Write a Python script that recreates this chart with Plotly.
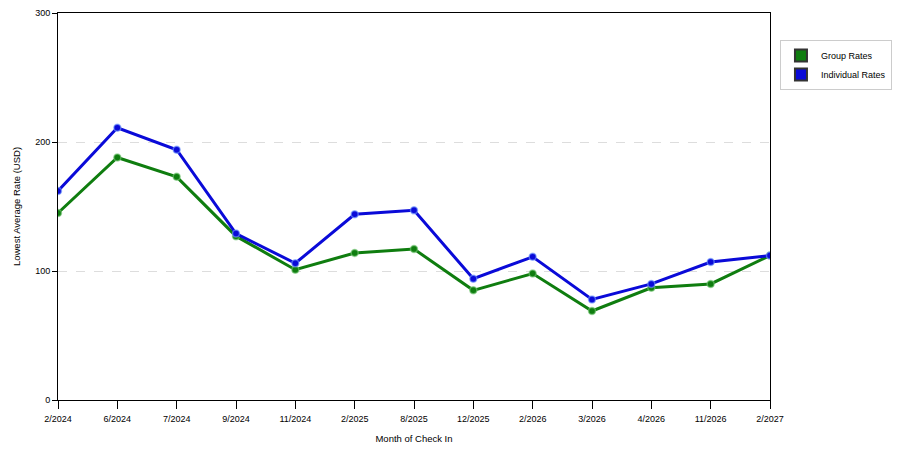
import plotly.graph_objects as go

months = ['2/2024', '6/2024', '7/2024', '9/2024', '11/2024', '2/2025', '8/2025',
          '12/2025', '2/2026', '3/2026', '4/2026', '11/2026', '2/2027']
group_rates = [145, 188, 173, 127, 101, 114, 117, 85, 98, 69, 87, 90, 112]
individual_rates = [162, 211, 194, 129, 106, 144, 147, 94, 111, 78, 90, 107, 112]

GREEN = '#0f7d0f'
BLUE = '#0a0ad8'

fig = go.Figure()

# data lines (legend drawn with square dummies below)
for name, vals, col, halo in [('Group Rates', group_rates, GREEN, 'rgba(120,200,120,0.6)'),
                              ('Individual Rates', individual_rates, BLUE, 'rgba(120,160,255,0.6)')]:
    fig.add_trace(go.Scatter(
        x=months, y=vals, mode='lines+markers', name=name,
        line=dict(color=col, width=3),
        marker=dict(size=7, color=col, line=dict(color=halo, width=1.5)),
        showlegend=False,
    ))

for name, col in [('Group Rates', GREEN), ('Individual Rates', BLUE)]:
    fig.add_trace(go.Scatter(
        x=[None], y=[None], mode='markers', name=name,
        marker=dict(symbol='square', size=13, color=col, line=dict(color='#333333', width=0.5)),
    ))

# page body has an 8px margin, so size/margins are shifted to compensate
fig.update_layout(
    width=892, height=442,
    margin=dict(l=50, r=130, t=5, b=50, autoexpand=False),
    paper_bgcolor='white', plot_bgcolor='white',
    font=dict(family='Liberation Sans', size=9, color='#000000'),
    legend=dict(x=1.014, y=0.93, xanchor='left', yanchor='top',
                bordercolor='#cccccc', borderwidth=1, bgcolor='white',
                font=dict(size=9), itemsizing='constant', tracegroupgap=2),
    xaxis=dict(
        title=dict(text='Month of Check In', standoff=12, font=dict(size=9.5)),
        type='category', range=[0, len(months) - 1],
        showline=True, linecolor='#000000', linewidth=1, mirror=True,
        ticks='outside', ticklen=8, tickcolor='#000000', ticklabelstandoff=2,
        showgrid=False, zeroline=False, automargin=False,
    ),
    yaxis=dict(
        title=dict(text='Lowest Average Rate (USD)', standoff=12, font=dict(size=9.5)),
        range=[0, 300], tickvals=[0, 100, 200, 300],
        showline=True, linecolor='#000000', linewidth=1, mirror=True,
        ticks='outside', ticklen=5, tickcolor='#000000',
        showgrid=True, gridcolor='#dddddd', griddash='dash', gridwidth=1,
        zeroline=False, automargin=False,
    ),
)

fig.write_html('out.html')
